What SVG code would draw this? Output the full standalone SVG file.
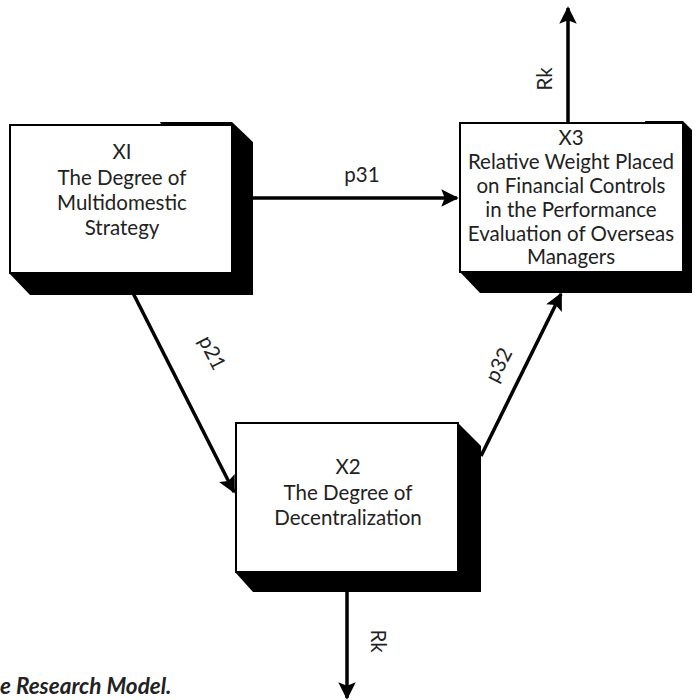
<svg xmlns="http://www.w3.org/2000/svg" width="695" height="700" viewBox="0 0 695 700">
<defs>
<marker id="ah" viewBox="0 0 10 10" refX="9" refY="5" markerWidth="6" markerHeight="5" orient="auto" markerUnits="strokeWidth">
<path d="M0,0 L10,5 L0,10 L2,5 Z" fill="#000"/>
</marker>
<style>
.box{fill:#fff;stroke:#000;stroke-width:2}
.sh{fill:#000}
.t{font-family:Lato,"Open Sans","DejaVu Sans",sans-serif;font-size:20.5px;fill:#222;text-anchor:middle}
.c{stroke:#000;stroke-width:3.5;fill:none;marker-end:url(#ah)}
</style>
</defs>
<rect width="695" height="700" fill="#fff"/>
<g id="connectors">
<line class="c" x1="253" y1="198" x2="457" y2="198"/>
<line class="c" x1="133" y1="293" x2="234" y2="492"/>
<line class="c" x1="481" y1="456" x2="561" y2="294"/>
<line class="c" x1="568" y1="123" x2="568" y2="8"/>
<line class="c" x1="347" y1="592" x2="347" y2="698"/>
<text class="t" x="362" y="182">p31</text>
<text class="t" transform="translate(206,356) rotate(63)">p21</text>
<text class="t" transform="translate(505,368) rotate(-63)">p32</text>
<text class="t" transform="translate(552,79) rotate(-90)">Rk</text>
<text class="t" transform="translate(371,641) rotate(90)">Rk</text>
</g>
<g id="X1">
<polygon class="sh" points="160,122 232,122 253,142 253,295 30,295 9,273 232,273"/>
<rect class="box" x="10" y="125" width="222" height="148"/>
<text class="t" x="122" y="159">XI</text>
<text class="t" x="122" y="185">The Degree of</text>
<text class="t" x="122" y="210">Multidomestic</text>
<text class="t" x="122" y="235">Strategy</text>
</g>
<g id="X3">
<polygon class="sh" points="645,121 683,121 692,130 692,293 480,293 460,272 683,272"/>
<rect class="box" x="460" y="123" width="223" height="149"/>
<text class="t" x="571" y="145">X3</text>
<text class="t" x="571" y="169">Relative Weight Placed</text>
<text class="t" x="571" y="193">on Financial Controls</text>
<text class="t" x="571" y="217">in the Performance</text>
<text class="t" x="571" y="241">Evaluation of Overseas</text>
<text class="t" x="571" y="264">Managers</text>
</g>
<g id="X2">
<polygon class="sh" points="458,423 481,446 481,592 253,592 235,572 458,572"/>
<rect class="box" x="236" y="423" width="222" height="149"/>
<text class="t" x="348" y="474">X2</text>
<text class="t" x="348" y="500">The Degree of</text>
<text class="t" x="348" y="525">Decentralization</text>
</g>
<text x="0" y="694" style="font-family:Lato,'Open Sans',sans-serif;font-size:22.5px;font-weight:bold;font-style:italic;fill:#222">e Research Model.</text>
</svg>
